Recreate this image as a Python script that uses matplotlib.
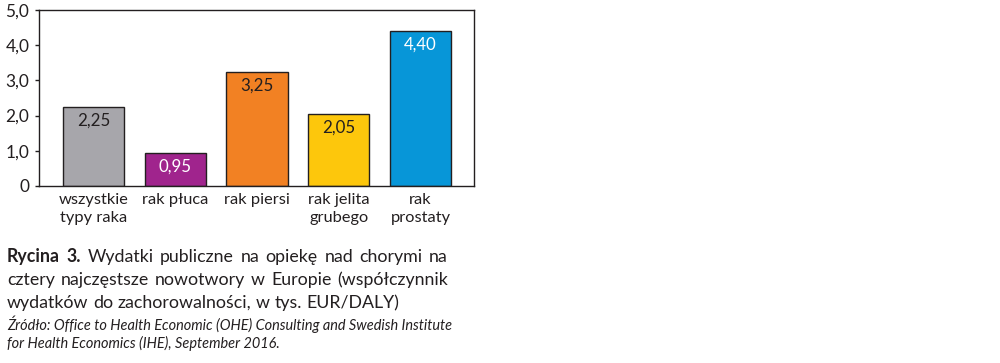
import matplotlib
matplotlib.use("Agg")
import matplotlib.pyplot as plt

categories = ["wszystkie\ntypy raka", "rak płuca", "rak piersi", "rak jelita\ngrubego", "rak\nprostaty"]
values = [2.25, 0.95, 3.25, 2.05, 4.40]
value_labels = ["2,25", "0,95", "3,25", "2,05", "4,40"]
colors = ["#a7a6ab", "#a0248d", "#f28123", "#fdc70c", "#0796d8"]
label_colors = ["#231f20", "white", "#231f20", "#231f20", "white"]
yticks = [0, 1, 2, 3, 4, 5]
ytick_labels = ["0", "1,0", "2,0", "3,0", "4,0", "5,0"]

caption_lines = [
    [("Rycina 3.", "bold"), ("Wydatki publiczne na opiekę nad chorymi na", "normal")],
    [("cztery najczęstsze nowotwory w Europie (współczynnik", "normal")],
    [("wydatków do zachorowalności, w tys. EUR/DALY)", "normal")],
]
source_lines = [
    "Źródło: Office to Health Economic (OHE) Consulting and Swedish Institute",
    "for Health Economics (IHE), September 2016.",
]

FONT = "Lato"
TXT = "#231f20"
plt.rcParams["font.family"] = [FONT, "DejaVu Sans"]

W, H = 1000, 363
fig = plt.figure(figsize=(W / 100, H / 100), dpi=100)
fig.canvas.draw()
renderer = fig.canvas.get_renderer()


def measure(s, weight, size, style="normal"):
    t = fig.text(0, 0, s, fontsize=size, fontweight=weight, fontstyle=style)
    w = t.get_window_extent(renderer).width
    t.remove()
    return w


# font sizes fitted to reference text widths
tick_size = 10 * 70 / measure("wszystkie", "normal", 10)
cap_size = 10 * 390 / measure(caption_lines[2][0][0], "normal", 10)
src_size = 10 * 448 / measure(source_lines[0], "normal", 10, "italic")

ax = fig.add_axes([39 / W, 1 - 186 / H, (474 - 39) / W, (186 - 10) / H])

x = list(range(len(values)))
ax.bar(x, values, width=0.75, color=colors, edgecolor=TXT, linewidth=1.0, zorder=2)
for xi, v, lab, lc in zip(x, values, value_labels, label_colors):
    ax.annotate(lab, (xi, v), xytext=(0, -14), textcoords="offset pixels",
                ha="center", va="center", color=lc, fontsize=tick_size * 1.03)

ax.set_xlim(-0.667, 4.654)
ax.set_ylim(0, 5)
ax.set_yticks(yticks)
ax.set_yticklabels(ytick_labels, fontsize=tick_size * 1.05, color=TXT)
ax.set_xticks(x)
ax.set_xticklabels(categories, fontsize=tick_size, color=TXT, linespacing=1.4)
ax.tick_params(axis="y", direction="out", length=3, width=1, color=TXT, pad=4)
ax.tick_params(axis="x", length=0, pad=5)
for s in ax.spines.values():
    s.set_color(TXT)
    s.set_linewidth(1.0)

left_px, right_px = 7, 448
baselines = [262, 285, 308]
for i, (segs, base) in enumerate(zip(caption_lines, baselines)):
    words = []
    for s, wgt in segs:
        for wd in s.split(" "):
            words.append((wd, wgt))
    widths = [measure(wd, wgt, cap_size) for wd, wgt in words]
    last = i == len(caption_lines) - 1
    if last:
        gap = measure("a b", "normal", cap_size) - measure("ab", "normal", cap_size)
    else:
        gap = (right_px - left_px - sum(widths)) / (len(words) - 1)
    xp = left_px
    for (wd, wgt), wdt in zip(words, widths):
        fig.text(xp / W, 1 - base / H, wd, fontsize=cap_size, fontweight=wgt,
                 color=TXT, ha="left", va="baseline")
        xp += wdt + gap

src_baselines = [330, 348]
for s, base in zip(source_lines, src_baselines):
    fig.text(left_px / W, 1 - base / H, s, fontsize=src_size, fontstyle="italic",
             color=TXT, ha="left", va="baseline")

fig.savefig("out.png", dpi=100)
